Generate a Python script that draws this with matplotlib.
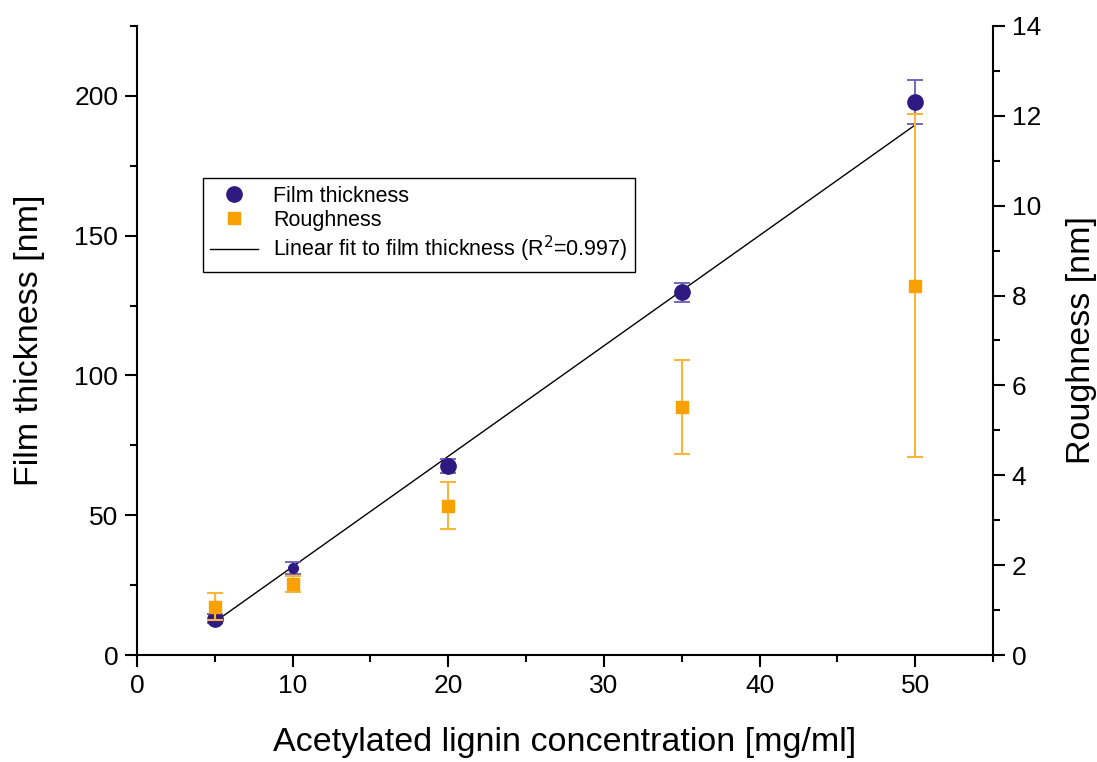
import matplotlib
matplotlib.use("Agg")
import matplotlib.pyplot as plt
from matplotlib.lines import Line2D
from matplotlib.ticker import MultipleLocator

plt.rcParams['font.family'] = ['Liberation Sans', 'DejaVu Sans']

# concentration [mg/ml]
conc = [5, 10, 20, 35, 50]

# film thickness [nm] with errors
thickness = [13.0, 31.2, 67.7, 129.7, 197.8]
thickness_err = [1.5, 2.2, 2.5, 3.5, 7.8]

# roughness [nm] with errors
roughness = [1.07, 1.58, 3.32, 5.52, 8.22]
roughness_err = [0.3, 0.18, 0.52, 1.05, 3.82]

# linear fit
fit_x = [5, 50]
fit_slope = 3.95
fit_intercept = -7.9

dark = '#2e1a80'
dark_err = '#6a5bb8'
orange = '#f9a100'
orange_err = '#fbb53a'

fig = plt.figure(figsize=(10.97, 7.62), dpi=100)
ax = fig.add_axes([0.1249, 0.1404, 0.9052 - 0.1249, 0.9659 - 0.1404])
ax2 = ax.twinx()

# fit line
fit_y = [fit_slope * x + fit_intercept for x in fit_x]
ax.plot(fit_x, fit_y, color='black', lw=1.0, zorder=3)

# film thickness
sizes = [11, 7, 11, 11, 11]
for x, y, e, s in zip(conc, thickness, thickness_err, sizes):
    ax.errorbar(x, y, yerr=e, fmt='o', ms=s, color=dark, ecolor=dark_err,
                elinewidth=1.3, capsize=6, capthick=1.3, zorder=4)

# roughness
ax2.errorbar(conc, roughness, yerr=roughness_err, fmt='s', ms=9, color=orange,
             ecolor=orange_err, elinewidth=1.5, capsize=6, capthick=1.5, zorder=2)

ax.set_xlim(0, 55)
ax.set_ylim(0, 225)
ax2.set_ylim(0, 14)

ax.xaxis.set_major_locator(MultipleLocator(10))
ax.xaxis.set_minor_locator(MultipleLocator(5))
ax.yaxis.set_major_locator(MultipleLocator(50))
ax.yaxis.set_minor_locator(MultipleLocator(25))
ax2.yaxis.set_major_locator(MultipleLocator(2))
ax2.yaxis.set_minor_locator(MultipleLocator(1))

for a in (ax, ax2):
    a.spines['top'].set_visible(False)
    for sp in a.spines.values():
        sp.set_linewidth(1.5)
    a.tick_params(which='major', direction='out', length=8.5, width=1.5,
                  labelsize=19, pad=5)
    a.tick_params(which='minor', direction='out', length=5, width=1.5)
ax.spines['right'].set_visible(False)
ax2.spines['left'].set_visible(False)
ax2.spines['bottom'].set_visible(False)

ax.set_xlabel('Acetylated lignin concentration [mg/ml]', fontsize=24.5, labelpad=21)
ax.set_ylabel('Film thickness [nm]', fontsize=24.5, labelpad=21)
ax2.set_ylabel('Roughness [nm]', fontsize=24.5, labelpad=18)

handles = [
    Line2D([], [], marker='o', ls='none', ms=11, color=dark),
    Line2D([], [], marker='s', ls='none', ms=9, color=orange),
    Line2D([], [], color='black', lw=1.0),
]
labels = ['Film thickness', 'Roughness', 'Linear fit to film thickness (R$^2$=0.997)']
leg = ax2.legend(handles, labels, loc='upper left', bbox_to_anchor=(0.077, 0.758),
                 borderaxespad=0, fontsize=15.5, frameon=True, fancybox=False,
                 edgecolor='black', framealpha=1, handlelength=2.2,
                 borderpad=0.35, labelspacing=0.15, handletextpad=0.7)
leg.get_frame().set_linewidth(1.0)

fig.savefig('out.png', dpi=100)
